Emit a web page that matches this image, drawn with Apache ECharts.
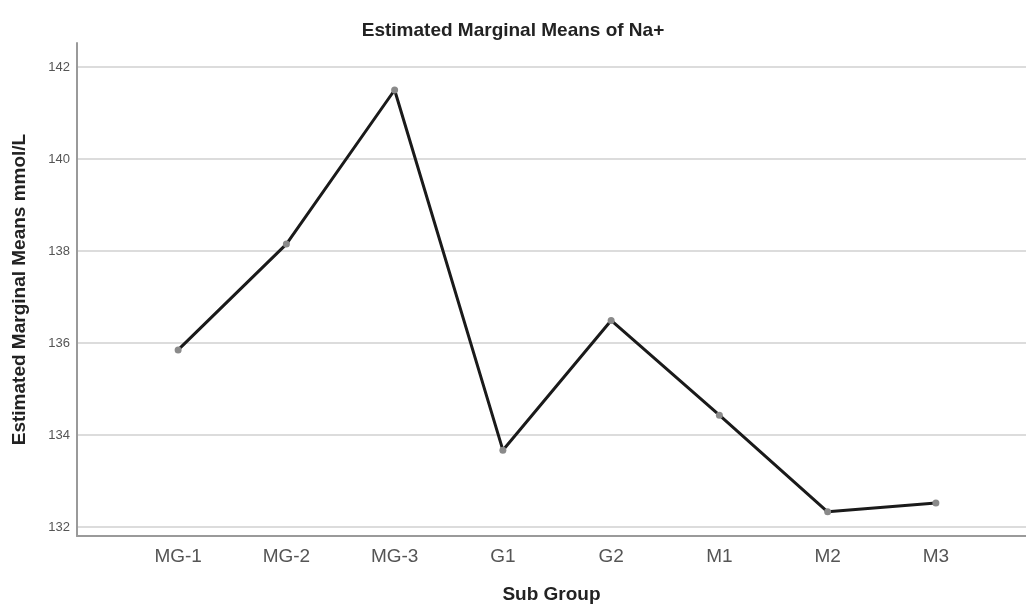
<!DOCTYPE html>
<html><head><meta charset="utf-8">
<script src="https://cdn.jsdelivr.net/npm/echarts@6/dist/echarts.min.js"></script>
<style>html,body{margin:0;padding:0;background:#fff}#c{width:1026px;height:605px}</style>
</head><body><div id="c"></div>
<script>
const categories = ['MG-1','MG-2','MG-3','G1','G2','M1','M2','M3'];
const values = [135.85, 138.15, 141.5, 133.67, 136.49, 134.43, 132.33, 132.52];
const yMin = 132, yMax = 142, yStep = 2;
const titleText = 'Estimated Marginal Means of Na+';
const yName = 'Estimated Marginal Means mmol/L';
const xName = 'Sub Group';

const font = '"Liberation Sans", Arial, sans-serif';
const chart = echarts.init(document.getElementById('c'));
chart.setOption({
  animation: false,
  backgroundColor: '#fff',
  title: { text: titleText, left: 'center', top: 16,
    textStyle: { fontFamily: font, fontSize: 19, fontWeight: 'bold', color: '#222' } },
  grid: [
    { left: 77, right: 0, top: 43, bottom: 69, outerBoundsMode: 'none', containLabel: false },
    { left: 77, right: 0, top: 67, bottom: 78, outerBoundsMode: 'none', containLabel: false },
    { left: 124, right: 36, top: 67, bottom: 78, outerBoundsMode: 'none', containLabel: false }
  ],
  xAxis: [
    { gridIndex: 0, type: 'value', min: 0, max: 1,
      axisLine: { show: true, onZero: false, lineStyle: { color: '#9a9a9a', width: 2 } },
      axisTick: { show: false }, axisLabel: { show: false }, splitLine: { show: false },
      name: xName, nameLocation: 'middle', nameGap: 49,
      nameTextStyle: { fontFamily: font, fontSize: 19, fontWeight: 'bold', color: '#222' } },
    { gridIndex: 1, type: 'value', min: 0, max: 1, show: false },
    { gridIndex: 2, type: 'category', data: categories, boundaryGap: true, offset: 9,
      axisLine: { show: false }, axisTick: { show: false }, splitLine: { show: false },
      axisLabel: { fontFamily: font, fontSize: 19, color: '#555', margin: 11 } }
  ],
  yAxis: [
    { gridIndex: 0, type: 'value', min: 0, max: 1,
      axisLine: { show: true, onZero: false, lineStyle: { color: '#9a9a9a', width: 2 } },
      axisTick: { show: false }, axisLabel: { show: false }, splitLine: { show: false },
      name: yName, nameLocation: 'middle', nameGap: 48, nameRotate: 90,
      nameTextStyle: { fontFamily: font, fontSize: 19, fontWeight: 'bold', color: '#222' } },
    { gridIndex: 1, type: 'value', min: yMin, max: yMax, interval: yStep,
      axisLine: { show: false }, axisTick: { show: false },
      axisLabel: { fontFamily: font, fontSize: 13, color: '#555', margin: 7 },
      splitLine: { show: true, lineStyle: { color: '#dcdcdc', width: 2 } } },
    { gridIndex: 2, type: 'value', min: yMin, max: yMax, show: false }
  ],
  series: [{
    type: 'line', xAxisIndex: 2, yAxisIndex: 2, data: values,
    lineStyle: { color: '#1a1a1a', width: 3 },
    symbol: 'circle', symbolSize: 7,
    itemStyle: { color: '#8a8a8a', borderWidth: 0 },
    z: 5
  }]
});
</script></body></html>
